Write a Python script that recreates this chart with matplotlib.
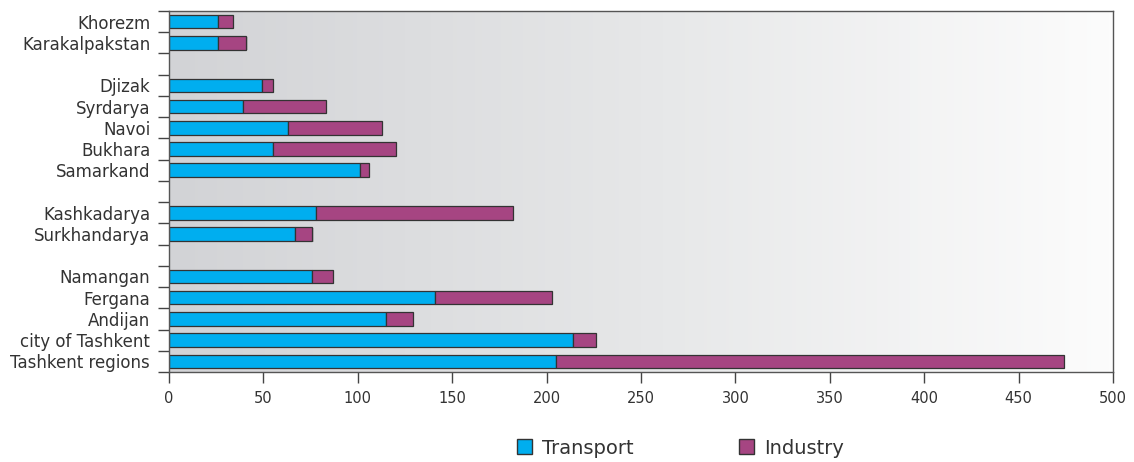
import numpy as np
import matplotlib.pyplot as plt
from matplotlib.colors import LinearSegmentedColormap
from matplotlib.patches import Patch

# regions from top to bottom, groups separated by an empty row
groups = [
    ["Khorezm", "Karakalpakstan"],
    ["Djizak", "Syrdarya", "Navoi", "Bukhara", "Samarkand"],
    ["Kashkadarya", "Surkhandarya"],
    ["Namangan", "Fergana", "Andijan", "city of Tashkent", "Tashkent regions"],
]
transport = [26, 26, 49, 39, 63, 55, 101, 78, 67, 76, 141, 115, 214, 205]
industry = [8, 15, 6, 44, 50, 65, 5, 104, 9, 11, 62, 14, 12, 269]

c_tr = "#00aeef"
c_in = "#a64582"

# slot positions (with a blank slot between groups)
labels, ypos = [], []
n_slots = sum(len(g) for g in groups) + len(groups) - 1
slot = n_slots - 1
for g in groups:
    for name in g:
        labels.append(name)
        ypos.append(slot)
        slot -= 1
    slot -= 1
ypos = np.array(ypos)
transport = np.array(transport)
industry = np.array(industry)

fig = plt.figure(figsize=(11.34, 4.62), dpi=100)
ax = fig.add_axes([169 / 1134, 1 - 372 / 462, 944 / 1134, 361 / 462])

# grey -> white gradient background
cmap = LinearSegmentedColormap.from_list("bg", ["#d2d3d6", "#e6e7e8", "#fcfcfc"])
grad = np.linspace(0, 1, 256).reshape(1, -1)
ax.imshow(grad, cmap=cmap, aspect="auto", extent=[0, 500, -0.5, n_slots - 0.5], zorder=0)

h = 0.64
# soft shadow under bars
ax.barh(ypos - 0.04, transport + industry, height=h, left=0.6, color="#9a9a9a", alpha=0.5, zorder=1)
ax.barh(ypos, transport, height=h, color=c_tr, edgecolor="#333333", linewidth=0.9, zorder=2)
ax.barh(ypos, industry, height=h, left=transport, color=c_in, edgecolor="#333333", linewidth=0.9, zorder=2)

ax.set_xlim(0, 500)
ax.set_ylim(-0.5, n_slots - 0.5)
ax.set_xticks(np.arange(0, 501, 50))
ax.set_yticks(ypos)
ax.set_yticklabels(labels, fontsize=12, color="#333333")
ax.set_yticks(np.arange(-0.5, n_slots, 1), minor=True)
ax.tick_params(axis="y", which="major", length=0, pad=13.5)
ax.tick_params(axis="y", which="minor", length=8, width=1, color="#444444")
ax.tick_params(axis="x", length=8, width=1, color="#444444", labelsize=10.5, labelcolor="#333333", pad=6)
for s in ax.spines.values():
    s.set_color("#555555")
    s.set_linewidth(1)

handles = [Patch(facecolor=c_tr, edgecolor="#333333", label="Transport"),
           Patch(facecolor=c_in, edgecolor="#333333", label="Industry")]
fig.legend(handles=handles, loc="center", bbox_to_anchor=(0.6, 0.03), ncol=2, frameon=False,
           fontsize=14, handlelength=0.8, handleheight=0.8, handletextpad=0.5, columnspacing=5.4,
           labelcolor="#333333")

fig.savefig("out.png", dpi=100)
